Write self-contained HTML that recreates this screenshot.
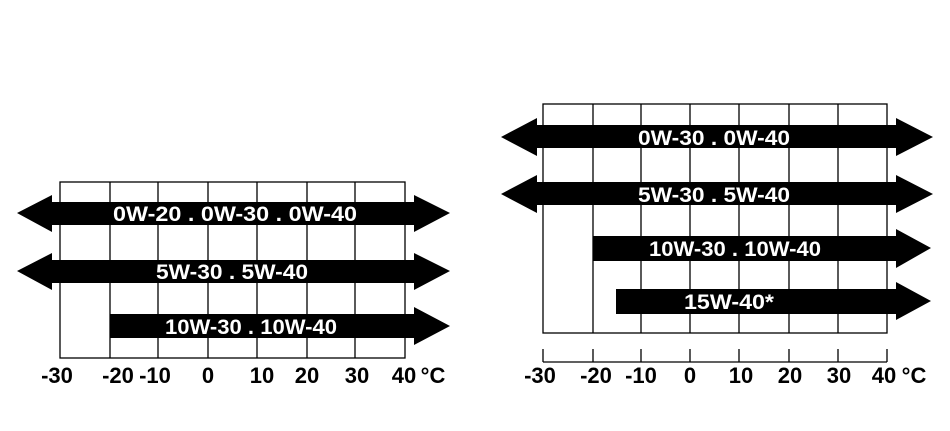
<!DOCTYPE html>
<html><head><style>html,body{margin:0;padding:0;background:#fff}svg{display:block}</style></head><body>
<svg width="950" height="431" viewBox="0 0 950 431" xmlns="http://www.w3.org/2000/svg" font-family="Liberation Sans, sans-serif" font-weight="bold">
<g stroke="#000" stroke-width="1.3" fill="none">
<rect x="60" y="182" width="345" height="176"/>
<path d="M110 182V358M158 182V358M208 182V358M257 182V358M307 182V358M355 182V358"/>
<rect x="543" y="104" width="344" height="229"/>
<path d="M593 104V333M641 104V333M690 104V333M739 104V333M789 104V333M838 104V333"/>
<path d="M543 362H887M543 349V362M593 349V362M641 349V362M690 349V362M739 349V362M789 349V362M838 349V362M887 349V362"/>
</g>
<g fill="#000">
<polygon points="17,213 52,195 52,202 414,202 414,195 450,213 414,232 414,225 52,225 52,232"/>
<polygon points="17,271 52,253 52,260 414,260 414,253 450,271 414,290 414,283 52,283 52,290"/>
<polygon points="110,314 414,314 414,307 450,326 414,345 414,338 110,338"/>
<polygon points="501,137 537,118 537,125 896,125 896,118 933,137 896,156 896,148 537,148 537,156"/>
<polygon points="501,194 537,175 537,182 896,182 896,175 933,194 896,213 896,205 537,205 537,213"/>
<polygon points="593,236 896,236 896,229 931,248 896,268 896,261 593,261"/>
<polygon points="616,289 896,289 896,282 931,301 896,320 896,314 616,314"/>
</g>
<g fill="#fff" font-size="21" text-anchor="middle">
<text x="235" y="221" textLength="244" lengthAdjust="spacingAndGlyphs">0W-20 . 0W-30 . 0W-40</text>
<text x="232" y="279" textLength="152" lengthAdjust="spacingAndGlyphs">5W-30 . 5W-40</text>
<text x="251" y="334" textLength="172" lengthAdjust="spacingAndGlyphs">10W-30 . 10W-40</text>
<text x="714" y="145" textLength="152" lengthAdjust="spacingAndGlyphs">0W-30 . 0W-40</text>
<text x="714" y="202" textLength="152" lengthAdjust="spacingAndGlyphs">5W-30 . 5W-40</text>
<text x="735" y="256" textLength="172" lengthAdjust="spacingAndGlyphs">10W-30 . 10W-40</text>
<text x="729" y="309" textLength="90" lengthAdjust="spacingAndGlyphs">15W-40*</text>
</g>
<g fill="#000" font-size="22" text-anchor="middle">
<text x="57" y="383">-30</text><text x="118" y="383">-20</text><text x="155" y="383">-10</text><text x="208" y="383">0</text><text x="262" y="383">10</text><text x="307" y="383">20</text><text x="357" y="383">30</text><text x="404" y="383">40</text><text x="433" y="383">°C</text>
<text x="540" y="383">-30</text><text x="596" y="383">-20</text><text x="641" y="383">-10</text><text x="690" y="383">0</text><text x="741" y="383">10</text><text x="790" y="383">20</text><text x="839" y="383">30</text><text x="884" y="383">40</text><text x="914" y="383">°C</text>
</g>
</svg>
</body></html>
